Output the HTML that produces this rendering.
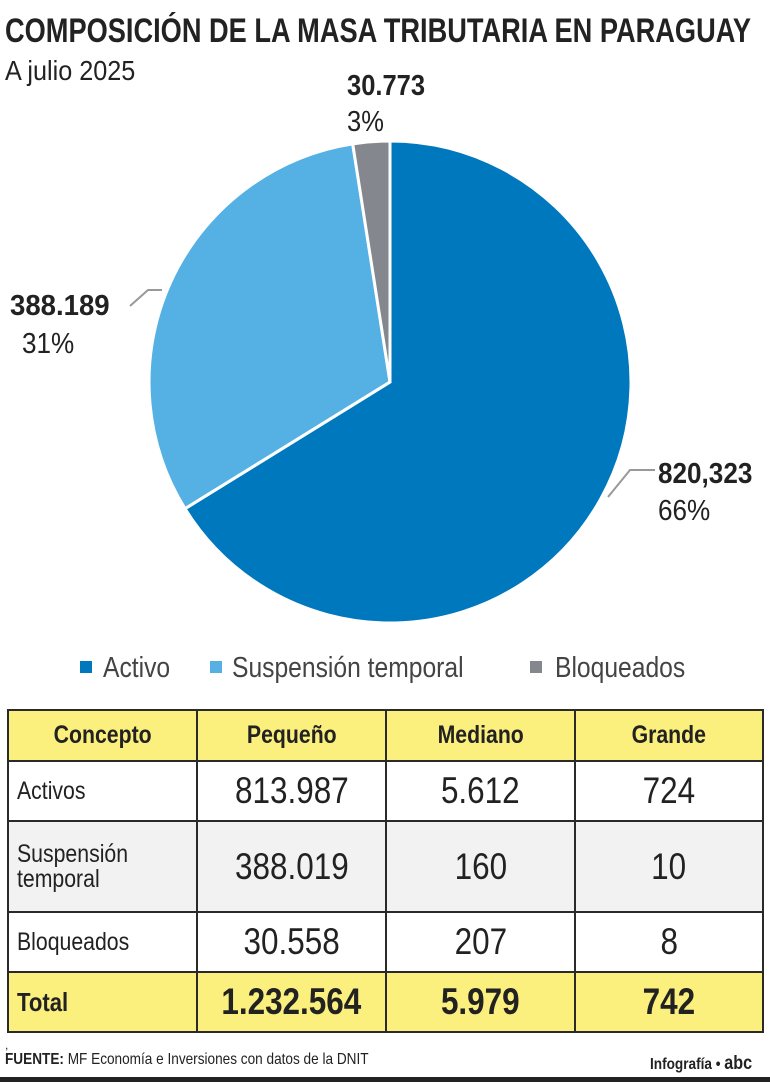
<!DOCTYPE html>
<html><head><meta charset="utf-8"><style>
body{margin:0;width:770px;height:1082px;background:#fff;position:relative;overflow:hidden;font-family:"Liberation Sans",sans-serif;color:#222}
.a{position:absolute;white-space:nowrap;transform-origin:0 0}
table{position:absolute;left:7px;top:709px;width:757px;border-collapse:collapse;table-layout:fixed}
td{border:2px solid #2a2a2a;text-align:center;padding:0}
.h td{background:#fbef7e;font-weight:bold;font-size:25px;height:49px}
.t td{background:#fbef7e;font-weight:bold;font-size:37px;height:58px}
td.l{text-align:left;padding-left:8px;font-size:25px;line-height:25px}
.n{font-size:37px}
.g td{background:#f2f2f2}
s{text-decoration:none;display:inline-block;transform:scaleX(0.85)}
td.l s{transform-origin:0 50%}
</style></head><body>
<div class="a" style="left:5px;top:12px;font-size:34px;font-weight:bold;transform:scaleX(0.8)">COMPOSICIÓN DE LA MASA TRIBUTARIA EN PARAGUAY</div>
<div class="a" style="left:5px;top:55px;font-size:28px;transform:scaleX(0.9)">A julio 2025</div>
<svg class="a" style="left:0;top:0" width="770" height="700">
<path d="M390,382 L390,141 A241,241 0 1 1 185,508.7 Z" fill="#0078bd" stroke="#fff" stroke-width="3"/>
<path d="M390,382 L185,508.7 A241,241 0 0 1 352.7,143.9 Z" fill="#55b1e3" stroke="#fff" stroke-width="3"/>
<path d="M390,382 L352.7,143.9 A241,241 0 0 1 390,141 Z" fill="#85878e" stroke="#fff" stroke-width="3"/>
<polyline points="130,306 148,290 162,290" fill="none" stroke="#999" stroke-width="2"/>
<polyline points="655,470 630,470 608,497" fill="none" stroke="#999" stroke-width="2"/>
<rect x="80" y="661" width="12" height="12" fill="#0078bd"/>
<rect x="210" y="661" width="12" height="12" fill="#55b1e3"/>
<rect x="530" y="661" width="12" height="12" fill="#85878e"/>
</svg>
<div class="a" style="left:347px;top:70px;font-size:29px;font-weight:bold;transform:scaleX(0.88)">30.773</div>
<div class="a" style="left:347px;top:106px;font-size:29px;transform:scaleX(0.88)">3%</div>
<div class="a" style="left:10px;top:290px;font-size:29px;font-weight:bold;transform:scaleX(0.95)">388.189</div>
<div class="a" style="left:22px;top:328px;font-size:29px;transform:scaleX(0.9)">31%</div>
<div class="a" style="left:658px;top:458px;font-size:29px;font-weight:bold;transform:scaleX(0.9)">820,323</div>
<div class="a" style="left:658px;top:495px;font-size:29px;transform:scaleX(0.9)">66%</div>
<div class="a" style="left:103px;top:652px;font-size:29px;color:#444;transform:scaleX(0.85)">Activo</div>
<div class="a" style="left:232px;top:652px;font-size:29px;color:#444;transform:scaleX(0.85)">Suspensión temporal</div>
<div class="a" style="left:555px;top:652px;font-size:29px;color:#444;transform:scaleX(0.85)">Bloqueados</div>
<table>
<colgroup><col style="width:189px"><col style="width:189px"><col style="width:189px"><col></colgroup>
<tr class="h"><td><s>Concepto</s></td><td><s>Pequeño</s></td><td><s>Mediano</s></td><td><s>Grande</s></td></tr>
<tr><td class="l" style="height:58px"><s>Activos</s></td><td class="n"><s>813.987</s></td><td class="n"><s>5.612</s></td><td class="n"><s>724</s></td></tr>
<tr class="g"><td class="l" style="height:89px"><s>Suspensión<br>temporal</s></td><td class="n"><s>388.019</s></td><td class="n"><s>160</s></td><td class="n"><s>10</s></td></tr>
<tr><td class="l" style="height:58px"><s>Bloqueados</s></td><td class="n"><s>30.558</s></td><td class="n"><s>207</s></td><td class="n"><s>8</s></td></tr>
<tr class="t"><td class="l" style="font-size:26px"><s>Total</s></td><td><s>1.232.564</s></td><td><s>5.979</s></td><td><s>742</s></td></tr>
</table>
<div class="a" style="left:5px;top:1038px;font-size:12px">,</div>
<div class="a" style="left:5px;top:1051px;font-size:16px;transform:scaleX(0.85)"><b>FUENTE:</b> MF Economía e Inversiones con datos de la DNIT</div>
<div class="a" style="left:650px;top:1053px;font-size:16px;font-weight:bold;transform:scaleX(0.85)">Infografía • <span style="font-size:19px">abc</span></div>
<div class="a" style="left:0;top:1077px;width:770px;height:5px;background:#222"></div>
</body></html>
